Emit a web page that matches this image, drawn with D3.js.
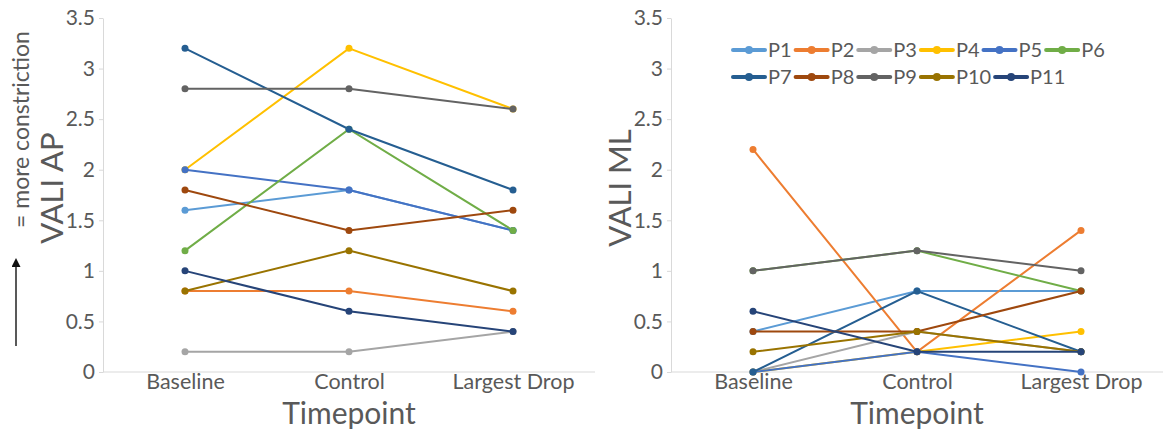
<!DOCTYPE html>
<html>
<head>
<meta charset="utf-8">
<script src="https://cdn.jsdelivr.net/npm/d3@7"></script>
<style>
  body { margin: 0; background: #fff; }
  text { font-family: Lato, "Open Sans", sans-serif; }
</style>
</head>
<body>
<div id="chart"></div>
<script>
// Data
const categories = ["Baseline", "Control", "Largest Drop"];
const participants = ["P1", "P2", "P3", "P4", "P5", "P6", "P7", "P8", "P9", "P10", "P11"];
const colors = ["#5B9BD5", "#ED7D31", "#A5A5A5", "#FFC000", "#4472C4", "#70AD47",
                "#255E91", "#9E480E", "#636363", "#997300", "#264478"];

// VALI AP per participant: Baseline, Control, Largest Drop
const valiAP = [
    [1.6, 1.8, 1.4],
    [0.8, 0.8, 0.6],
    [0.2, 0.2, 0.4],
    [2.0, 3.2, 2.6],
    [2.0, 1.8, 1.4],
    [1.2, 2.4, 1.4],
    [3.2, 2.4, 1.8],
    [1.8, 1.4, 1.6],
    [2.8, 2.8, 2.6],
    [0.8, 1.2, 0.8],
    [1.0, 0.6, 0.4]
];

// VALI ML per participant
const valiML = [
    [0.4, 0.8, 0.8],
    [2.2, 0.2, 1.4],
    [0.0, 0.4, 0.2],
    [0.0, 0.2, 0.4],
    [0.0, 0.2, 0.0],
    [1.0, 1.2, 0.8],
    [0.0, 0.8, 0.2],
    [0.4, 0.4, 0.8],
    [1.0, 1.2, 1.0],
    [0.2, 0.4, 0.2],
    [0.6, 0.2, 0.2]
];

const yTicks = [0, 0.5, 1, 1.5, 2, 2.5, 3, 3.5];

const W = 1169, H = 431;
const svg = d3.select("#chart")
    .append("svg")
    .attr("width", W)
    .attr("height", H);

const textColor = "#595959";
const axisColor = "#d9d9d9";

function drawPanel(values, x0, x1, yLabel, yLabelX) {
    const g = svg.append("g");

    const x = d3.scalePoint()
        .domain(categories)
        .range([x0, x1])
        .padding(0.5);

    const y = d3.scaleLinear()
        .domain([0, 3.5])
        .range([372, 18]);

    // y axis
    const yAxis = g.append("g")
        .attr("transform", `translate(${x0},0)`)
        .call(d3.axisLeft(y).tickValues(yTicks).tickSize(4).tickSizeOuter(0).tickPadding(4)
            .tickFormat(d3.format("")));
    yAxis.select(".domain").attr("stroke", axisColor);
    yAxis.selectAll(".tick line").attr("stroke", axisColor);
    yAxis.selectAll("text")
        .attr("fill", textColor)
        .style("font-size", "21px");

    // x axis
    const xAxis = g.append("g")
        .attr("transform", `translate(0,${y(0)})`)
        .call(d3.axisBottom(x).tickSize(0).tickSizeOuter(0).tickPadding(2));
    xAxis.select(".domain").attr("stroke", axisColor).attr("d", `M${x0},0H${x1}`);
    xAxis.selectAll("text")
        .attr("fill", textColor)
        .style("font-size", "21.5px");

    // axis titles
    g.append("text")
        .attr("x", (x0 + x1) / 2)
        .attr("y", 424)
        .attr("text-anchor", "middle")
        .attr("fill", textColor)
        .style("font-size", "30px")
        .text("Timepoint");

    g.append("text")
        .attr("transform", `translate(${yLabelX},188) rotate(-90)`)
        .attr("text-anchor", "middle")
        .attr("fill", textColor)
        .style("font-size", "31px")
        .text(yLabel);

    const line = d3.line()
        .x((d, i) => x(categories[i]))
        .y(d => y(d));

    // series
    values.forEach((vals, k) => {
        const s = g.append("g");
        s.append("path")
            .datum(vals)
            .attr("d", line)
            .attr("fill", "none")
            .attr("stroke", colors[k])
            .attr("stroke-width", 2);
        s.selectAll("circle")
            .data(vals)
            .enter()
            .append("circle")
            .attr("cx", (d, i) => x(categories[i]))
            .attr("cy", d => y(d))
            .attr("r", 3.5)
            .attr("fill", colors[k]);
    });

    return g;
}

drawPanel(valiAP, 103, 595, "VALI AP", 63);
drawPanel(valiML, 671, 1163, "VALI ML", 631);

// "more constriction" note with arrow
svg.append("defs").append("marker")
    .attr("id", "arrow")
    .attr("viewBox", "0 0 10 10")
    .attr("refX", 0).attr("refY", 5)
    .attr("markerUnits", "userSpaceOnUse")
    .attr("markerWidth", 12).attr("markerHeight", 9)
    .attr("orient", "auto")
    .append("path")
    .attr("d", "M0,0L10,5L0,10Z")
    .attr("fill", "#111");

svg.append("line")
    .attr("x1", 16).attr("y1", 346)
    .attr("x2", 16).attr("y2", 267)
    .attr("stroke", "#222")
    .attr("stroke-width", 1.5)
    .attr("marker-end", "url(#arrow)");

svg.append("text")
    .attr("transform", "translate(29,228) rotate(-90)")
    .attr("fill", textColor)
    .style("font-size", "23px")
    .text("= more constriction");

// legend (right panel)
const legendRows = [participants.slice(0, 6), participants.slice(6)];
legendRows.forEach((row, r) => {
    let lx = 733;
    const ly = 50 + r * 27;
    row.forEach(p => {
        const k = participants.indexOf(p);
        const item = svg.append("g").attr("transform", `translate(${lx},${ly})`);
        item.append("line")
            .attr("x1", 0).attr("x2", 32)
            .attr("stroke", colors[k])
            .attr("stroke-width", 4)
            .attr("stroke-linecap", "round");
        item.append("circle")
            .attr("cx", 16).attr("r", 4)
            .attr("fill", colors[k]);
        const t = item.append("text")
            .attr("x", 35)
            .attr("y", 7)
            .attr("fill", textColor)
            .style("font-size", "20px")
            .text(p);
        lx += 35 + t.node().getComputedTextLength() + 4;
    });
});
</script>
</body>
</html>
